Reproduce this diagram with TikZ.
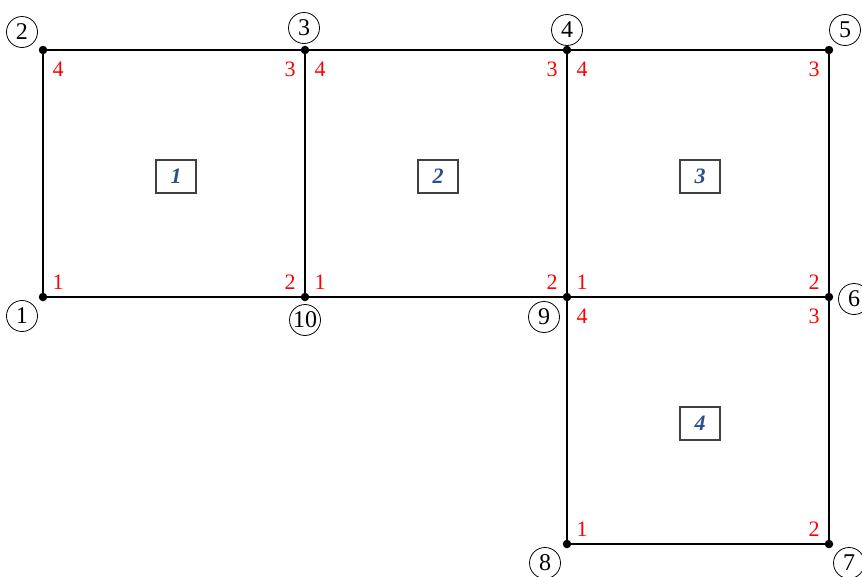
\documentclass[tikz,border=0pt]{standalone}
\usepackage{fontspec}
\setmainfont{Liberation Serif}
\usetikzlibrary{calc}
\definecolor{lred}{HTML}{FF0000}
\definecolor{eblue}{HTML}{2B4F8C}
\tikzset{
  % mesh node dot and its global number
  nd/.style   = {circle, fill=black, inner sep=0pt, minimum size=8.5pt},
  gnum/.style = {circle, draw=black, line width=0.8pt, inner sep=0pt, minimum size=31pt,
                 font=\fontsize{24}{24}\selectfont},
  % local corner numbers and element tags
  lnum/.style = {text=lred, inner sep=0pt, font=\fontsize{22}{22}\selectfont},
  elem/.style = {draw=black!75, line width=1.2pt, fill=white, inner sep=0pt,
                 minimum width=40pt, minimum height=33pt, text=eblue,
                 font=\fontsize{22}{22}\selectfont\bfseries\itshape},
  side/.style = {line width=2.6pt},
}
\begin{document}
\begin{tikzpicture}[x=1pt,y=-1pt]
\useasboundingbox (0,0) rectangle (862,576);
% global nodes
\foreach \n/\x/\y in {1/43/297, 2/43/50, 3/305/50, 4/567/50, 5/829/50,
                      6/829/297, 7/829/544, 8/567/544, 9/567/297, 10/305/297}
  \node[nd] (n\n) at (\x,\y) {};
% element sides
\foreach \a/\b in {2/3, 3/4, 4/5, 1/10, 10/9, 9/6, 8/7, 2/1, 3/10, 4/9, 9/8, 5/6, 6/7}
  \draw[side] (n\a) -- (n\b);
% circled global numbers
\foreach \n/\dx/\dy in {1/-21/19, 2/-21/-18, 3/-1/-22, 4/0/-20, 5/16/-20,
                        6/25/2, 7/20/19, 8/-22/19, 9/-23/20, 10/0/23}
  \node[gnum] (g\n) at ($(n\n)+(\dx,\dy)$) {\n};
% local numbering, corners 1-2-3-4 counter-clockwise
\foreach \e/\a/\b/\c/\d in {1/1/10/3/2, 2/10/9/4/3, 3/9/6/5/4, 4/8/7/6/9} {
  \node[lnum] (l\e a) at ($(n\a)+(15,-15)$) {1};
  \node[lnum] (l\e b) at ($(n\b)+(-15,-15)$) {2};
  \node[lnum] (l\e c) at ($(n\c)+(-15,19)$) {3};
  \node[lnum] (l\e d) at ($(n\d)+(15,19)$) {4};
  \node[elem] (e\e) at ($(n\a)!0.5!(n\c)+(2,3)$) {\e};
}
\end{tikzpicture}
\end{document}
